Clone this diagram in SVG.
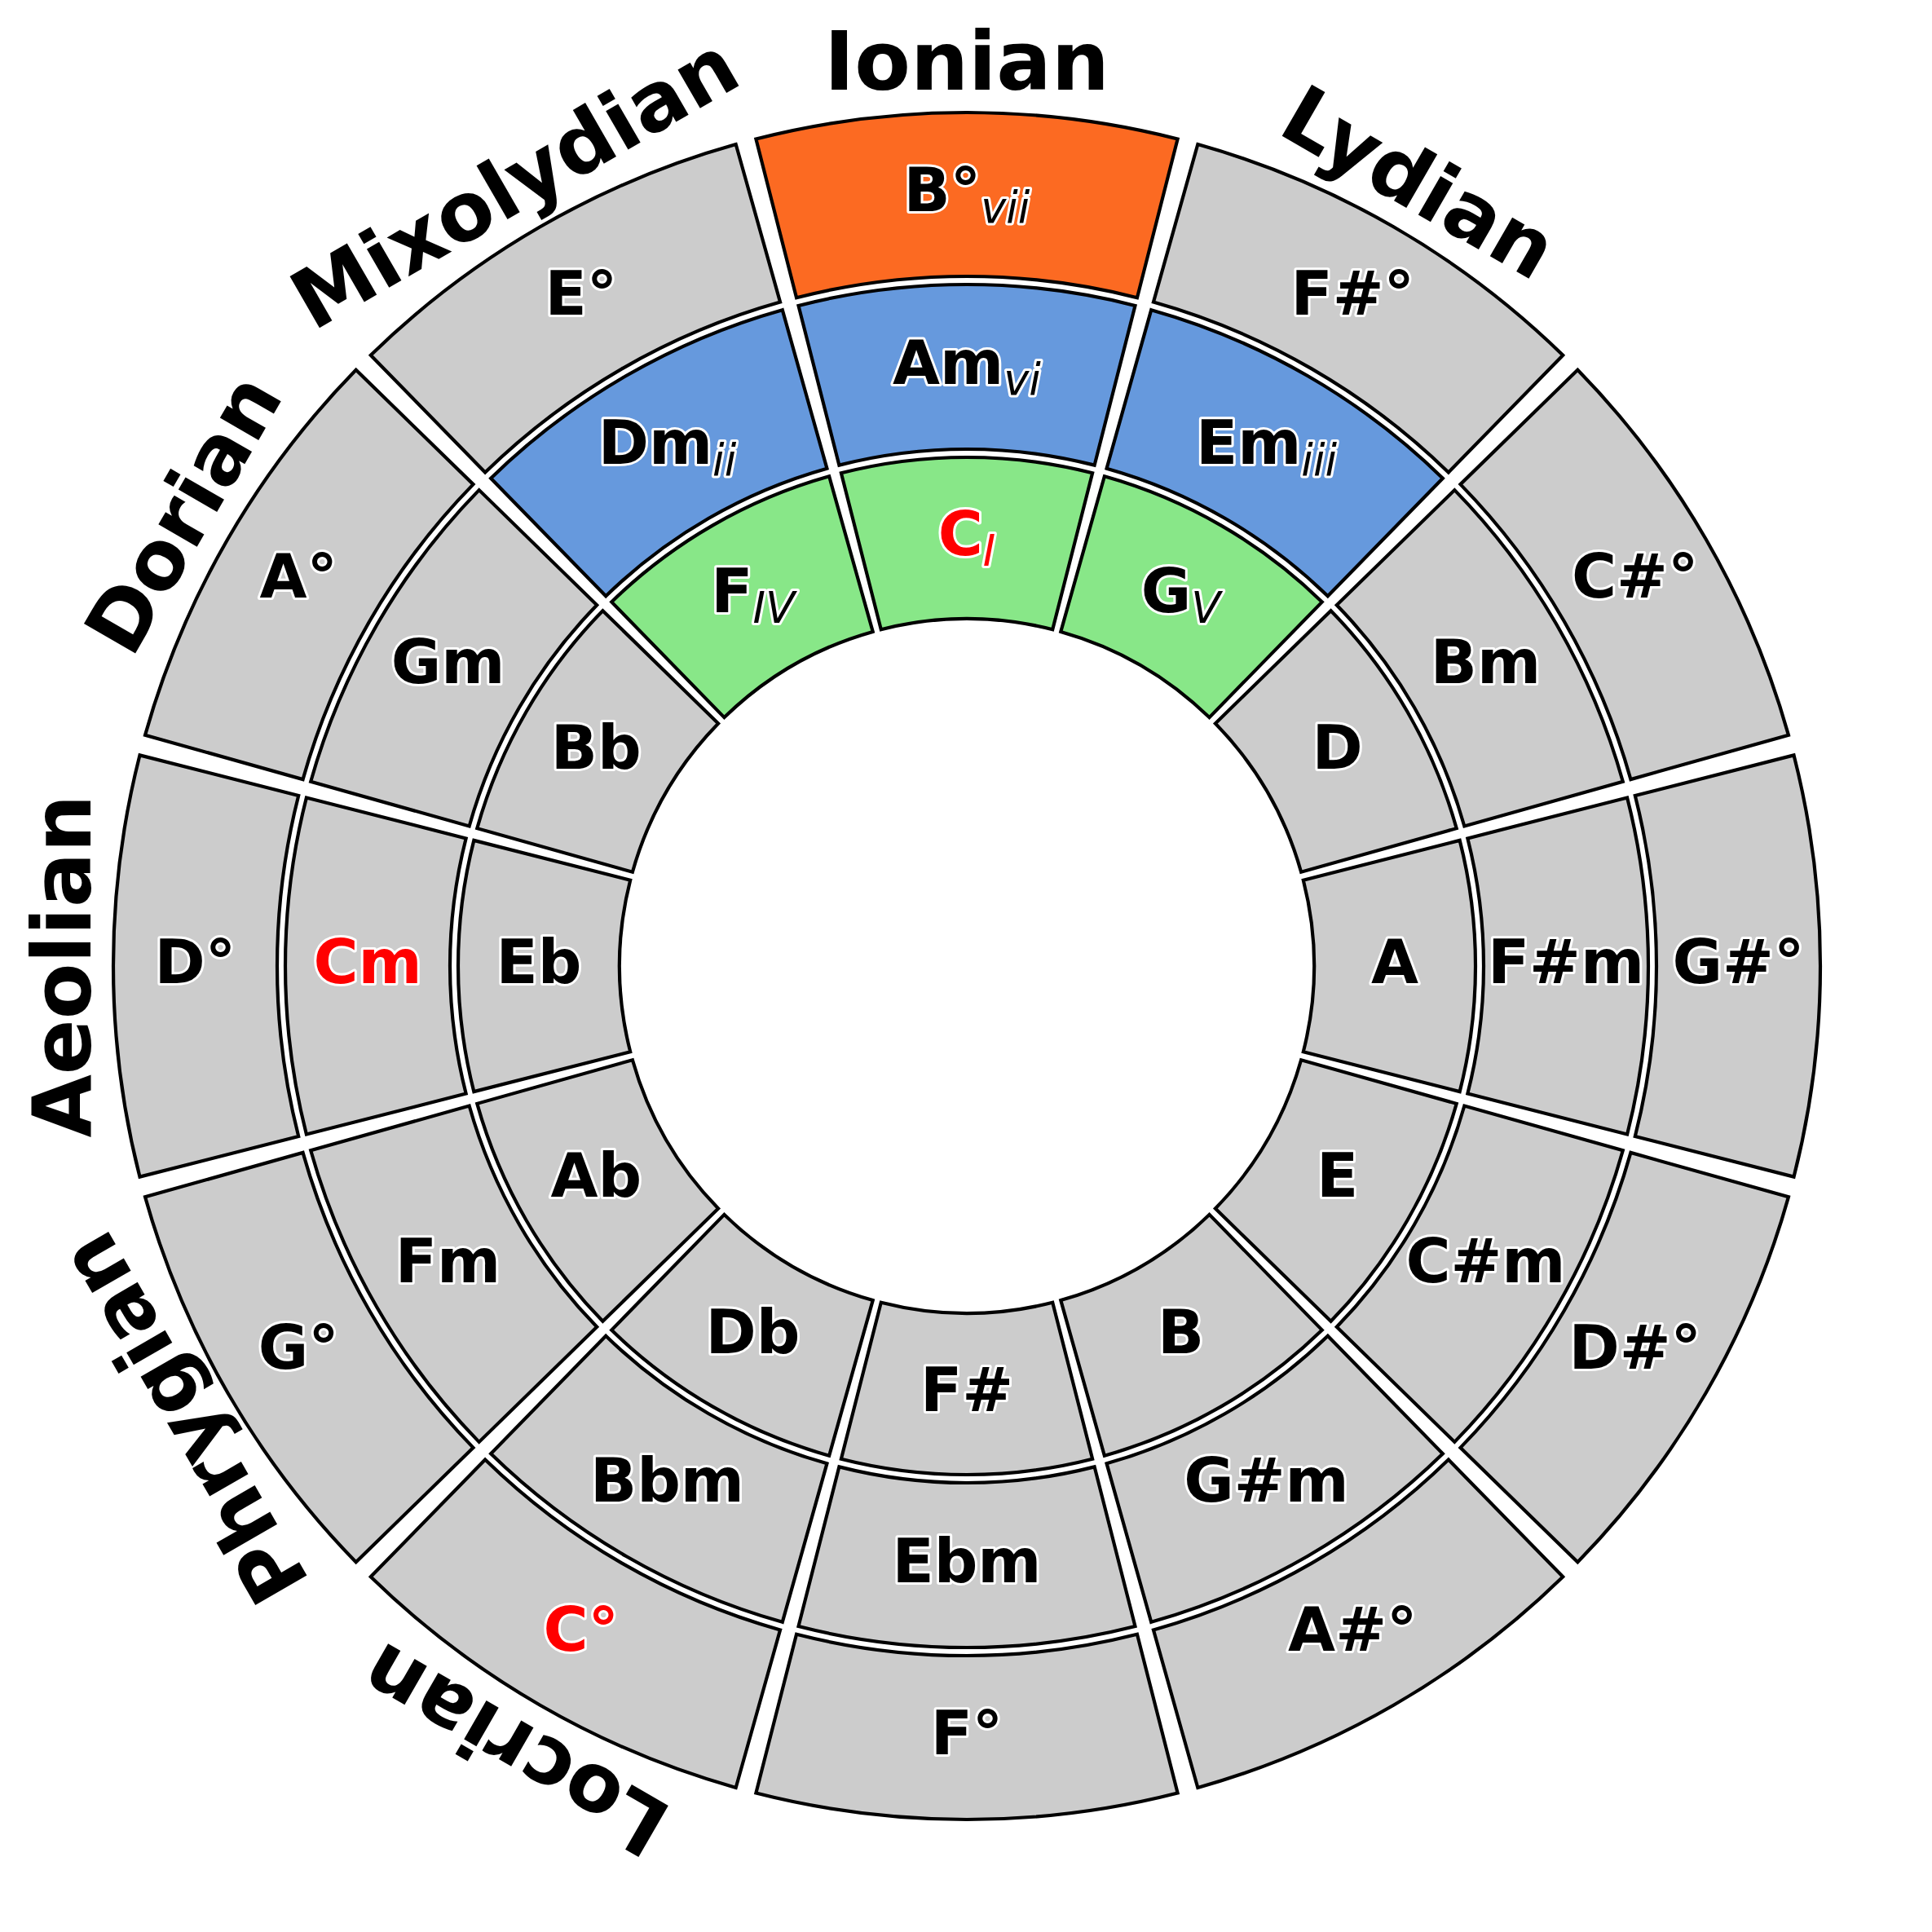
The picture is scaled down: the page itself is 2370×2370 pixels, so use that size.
<svg xmlns="http://www.w3.org/2000/svg" xmlns:xlink="http://www.w3.org/1999/xlink" width="2370" height="2370" viewBox="0 0 2370 2370">
<defs>
<path id="w1" d="M -154.13 -604.67 A 624 624 0 0 1 154.13 -604.67 L 105.22 -412.80 A 426 426 0 0 0 -105.22 -412.80 Z"/>
<path id="w2" d="M -206.49 -810.10 A 836 836 0 0 1 206.49 -810.10 L 156.60 -614.36 A 634 634 0 0 0 -156.60 -614.36 Z"/>
<path id="w3" d="M -258.61 -1014.56 A 1047 1047 0 0 1 258.61 -1014.56 L 208.96 -819.79 A 846 846 0 0 0 -208.96 -819.79 Z"/>
</defs>
<style>
.wedge{stroke:#000;stroke-width:4.17;stroke-linejoin:miter}
.g{fill:#cccccc}
.o{fill:#FC6A22}
.b{fill:#6699DD}
.gr{fill:#88E788}
.lbl{font-family:"DejaVu Sans","Liberation Sans",sans-serif;font-weight:bold;font-size:75px;text-anchor:middle;fill:#000;stroke:#fff;stroke-width:6;stroke-linejoin:round;paint-order:stroke}
.red{fill:#ff0000}
.sub{font-size:52.5px;font-style:italic;font-weight:normal}
.mode{font-family:"DejaVu Sans","Liberation Sans",sans-serif;font-weight:bold;font-size:100px;text-anchor:middle;fill:#000}
</style>
<rect width="2370" height="2370" fill="#ffffff"/>

<g id="sector-0">
<use xlink:href="#w1" class="wedge gr" transform="translate(1186,1185) rotate(0)"/>
<use xlink:href="#w2" class="wedge b" transform="translate(1186,1185) rotate(0)"/>
<use xlink:href="#w3" class="wedge o" transform="translate(1186,1185) rotate(0)"/>
<text class="lbl red" x="1186" y="680.7">C<tspan class="sub" dy="13.3">I</tspan></text>
<text class="lbl" x="1186" y="470.7">Am<tspan class="sub" dy="13.3">vi</tspan></text>
<text class="lbl" x="1186" y="259.2">B°<tspan class="sub" dy="13.3">vii</tspan></text>
</g>
<g id="sector-1">
<use xlink:href="#w1" class="wedge gr" transform="translate(1186,1185) rotate(30)"/>
<use xlink:href="#w2" class="wedge b" transform="translate(1186,1185) rotate(30)"/>
<use xlink:href="#w3" class="wedge g" transform="translate(1186,1185) rotate(30)"/>
<text class="lbl" x="1448.5" y="751.0">G<tspan class="sub" dy="13.3">V</tspan></text>
<text class="lbl" x="1553.5" y="569.2">Em<tspan class="sub" dy="13.3">iii</tspan></text>
<text class="lbl" x="1659.3" y="386.0">F#°</text>
</g>
<g id="sector-2">
<use xlink:href="#w1" class="wedge g" transform="translate(1186,1185) rotate(60)"/>
<use xlink:href="#w2" class="wedge g" transform="translate(1186,1185) rotate(60)"/>
<use xlink:href="#w3" class="wedge g" transform="translate(1186,1185) rotate(60)"/>
<text class="lbl" x="1640.7" y="943.2">D</text>
<text class="lbl" x="1822.5" y="838.2">Bm</text>
<text class="lbl" x="2005.7" y="732.5">C#°</text>
</g>
<g id="sector-3">
<use xlink:href="#w1" class="wedge g" transform="translate(1186,1185) rotate(90)"/>
<use xlink:href="#w2" class="wedge g" transform="translate(1186,1185) rotate(90)"/>
<use xlink:href="#w3" class="wedge g" transform="translate(1186,1185) rotate(90)"/>
<text class="lbl" x="1711" y="1205.7">A</text>
<text class="lbl" x="1921" y="1205.7">F#m</text>
<text class="lbl" x="2132.5" y="1205.7">G#°</text>
</g>
<g id="sector-4">
<use xlink:href="#w1" class="wedge g" transform="translate(1186,1185) rotate(120)"/>
<use xlink:href="#w2" class="wedge g" transform="translate(1186,1185) rotate(120)"/>
<use xlink:href="#w3" class="wedge g" transform="translate(1186,1185) rotate(120)"/>
<text class="lbl" x="1640.7" y="1468.2">E</text>
<text class="lbl" x="1822.5" y="1573.2">C#m</text>
<text class="lbl" x="2005.7" y="1679.0">D#°</text>
</g>
<g id="sector-5">
<use xlink:href="#w1" class="wedge g" transform="translate(1186,1185) rotate(150)"/>
<use xlink:href="#w2" class="wedge g" transform="translate(1186,1185) rotate(150)"/>
<use xlink:href="#w3" class="wedge g" transform="translate(1186,1185) rotate(150)"/>
<text class="lbl" x="1448.5" y="1660.4">B</text>
<text class="lbl" x="1553.5" y="1842.2">G#m</text>
<text class="lbl" x="1659.3" y="2025.4">A#°</text>
</g>
<g id="sector-6">
<use xlink:href="#w1" class="wedge g" transform="translate(1186,1185) rotate(180)"/>
<use xlink:href="#w2" class="wedge g" transform="translate(1186,1185) rotate(180)"/>
<use xlink:href="#w3" class="wedge g" transform="translate(1186,1185) rotate(180)"/>
<text class="lbl" x="1186" y="1730.7">F#</text>
<text class="lbl" x="1186" y="1940.7">Ebm</text>
<text class="lbl" x="1186" y="2152.2">F°</text>
</g>
<g id="sector-7">
<use xlink:href="#w1" class="wedge g" transform="translate(1186,1185) rotate(210)"/>
<use xlink:href="#w2" class="wedge g" transform="translate(1186,1185) rotate(210)"/>
<use xlink:href="#w3" class="wedge g" transform="translate(1186,1185) rotate(210)"/>
<text class="lbl" x="923.5" y="1660.4">Db</text>
<text class="lbl" x="818.5" y="1842.2">Bbm</text>
<text class="lbl red" x="712.8" y="2025.4">C°</text>
</g>
<g id="sector-8">
<use xlink:href="#w1" class="wedge g" transform="translate(1186,1185) rotate(240)"/>
<use xlink:href="#w2" class="wedge g" transform="translate(1186,1185) rotate(240)"/>
<use xlink:href="#w3" class="wedge g" transform="translate(1186,1185) rotate(240)"/>
<text class="lbl" x="731.3" y="1468.2">Ab</text>
<text class="lbl" x="549.5" y="1573.2">Fm</text>
<text class="lbl" x="366.3" y="1679.0">G°</text>
</g>
<g id="sector-9">
<use xlink:href="#w1" class="wedge g" transform="translate(1186,1185) rotate(270)"/>
<use xlink:href="#w2" class="wedge g" transform="translate(1186,1185) rotate(270)"/>
<use xlink:href="#w3" class="wedge g" transform="translate(1186,1185) rotate(270)"/>
<text class="lbl" x="661" y="1205.7">Eb</text>
<text class="lbl red" x="451" y="1205.7">Cm</text>
<text class="lbl" x="239.5" y="1205.7">D°</text>
</g>
<g id="sector-10">
<use xlink:href="#w1" class="wedge g" transform="translate(1186,1185) rotate(300)"/>
<use xlink:href="#w2" class="wedge g" transform="translate(1186,1185) rotate(300)"/>
<use xlink:href="#w3" class="wedge g" transform="translate(1186,1185) rotate(300)"/>
<text class="lbl" x="731.3" y="943.2">Bb</text>
<text class="lbl" x="549.5" y="838.2">Gm</text>
<text class="lbl" x="366.3" y="732.5">A°</text>
</g>
<g id="sector-11">
<use xlink:href="#w1" class="wedge gr" transform="translate(1186,1185) rotate(330)"/>
<use xlink:href="#w2" class="wedge b" transform="translate(1186,1185) rotate(330)"/>
<use xlink:href="#w3" class="wedge g" transform="translate(1186,1185) rotate(330)"/>
<text class="lbl" x="923.5" y="751.0">F<tspan class="sub" dy="13.3">IV</tspan></text>
<text class="lbl" x="818.5" y="569.2">Dm<tspan class="sub" dy="13.3">ii</tspan></text>
<text class="lbl" x="712.8" y="386.0">E°</text>
</g>

<g id="mode-labels">
<text class="mode" transform="translate(1186,1185) rotate(0)" x="0" y="-1075">Ionian</text>
<text class="mode" transform="translate(1186,1185) rotate(30)" x="0" y="-1075">Lydian</text>
<text class="mode" transform="translate(1186,1185) rotate(-30)" x="0" y="-1075">Mixolydian</text>
<text class="mode" transform="translate(1186,1185) rotate(-60)" x="0" y="-1075">Dorian</text>
<text class="mode" transform="translate(1186,1185) rotate(-90)" x="0" y="-1075">Aeolian</text>
<text class="mode" transform="translate(1186,1185) rotate(-120)" x="0" y="-1075">Phrygian</text>
<text class="mode" transform="translate(1186,1185) rotate(-150)" x="0" y="-1075">Locrian</text>
</g>
</svg>
